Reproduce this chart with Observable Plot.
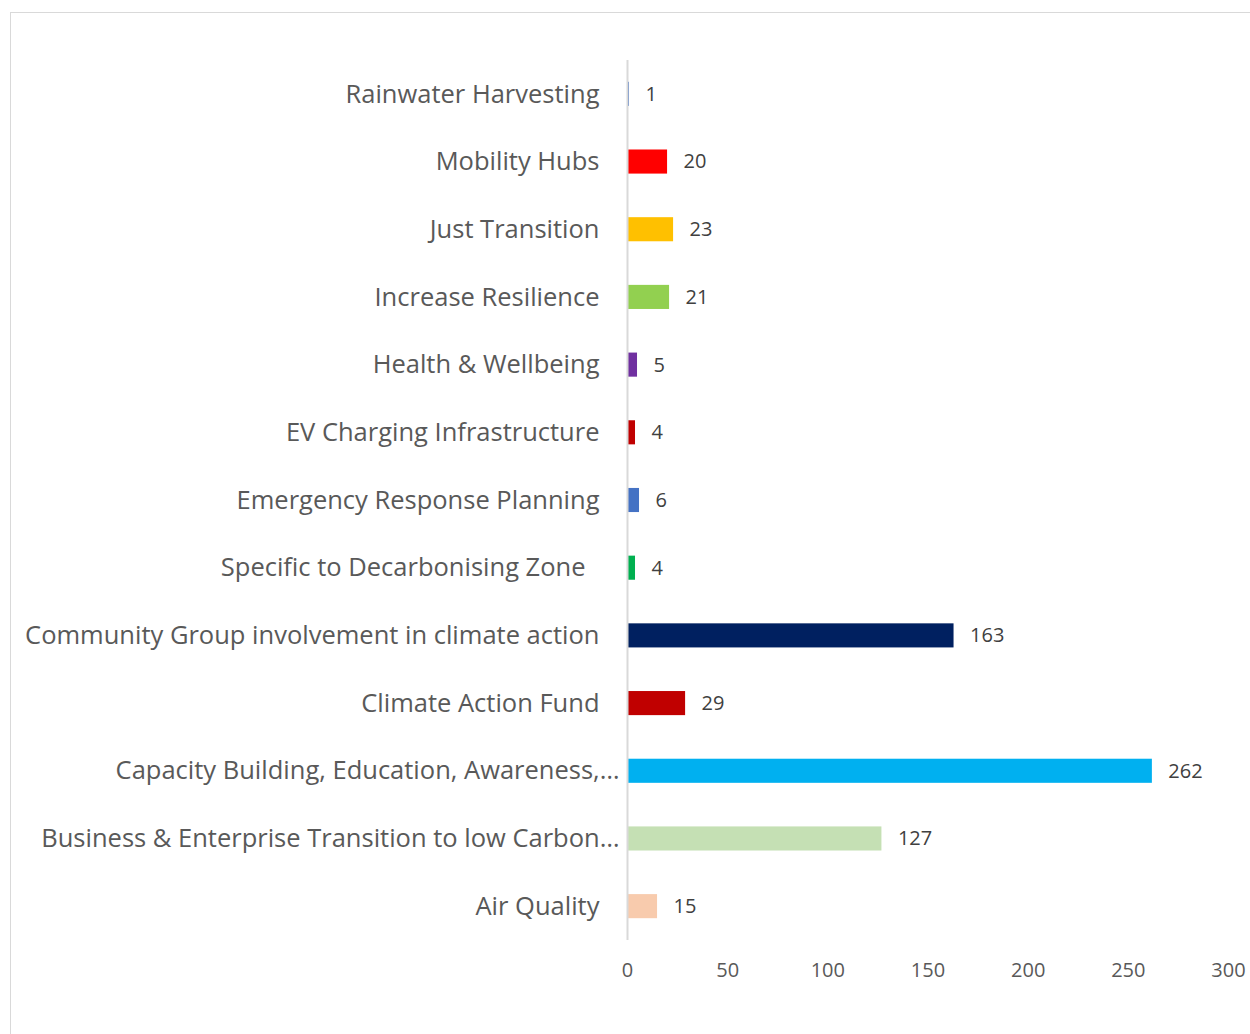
<!DOCTYPE html>
<html>
<head>
<meta charset="utf-8">
<script src="https://cdn.jsdelivr.net/npm/d3@7"></script>
<script src="https://cdn.jsdelivr.net/npm/@observablehq/plot@0.6"></script>
<style>
  html, body { margin: 0; padding: 0; background: #fff; overflow: hidden; }
  #frame { position: absolute; left: 10px; top: 12px; width: 1400px; height: 1200px; border: 1.5px solid #d9d9d9; box-sizing: border-box; }
  #chart { position: absolute; left: 0; top: 0; }
</style>
</head>
<body>
<div id="frame"></div>
<div id="chart"></div>
<script>
const categories = [
  "Rainwater Harvesting",
  "Mobility Hubs",
  "Just Transition",
  "Increase Resilience",
  "Health & Wellbeing",
  "EV Charging Infrastructure",
  "Emergency Response Planning",
  "Specific to Decarbonising Zone",
  "Community Group involvement in climate action",
  "Climate Action Fund",
  "Capacity Building, Education, Awareness,…",
  "Business & Enterprise Transition to low Carbon…",
  "Air Quality"
];
const values = [1, 20, 23, 21, 5, 4, 6, 4, 163, 29, 262, 127, 15];
const colors = ["#4472c4", "#ff0000", "#ffc000", "#92d050", "#7030a0", "#c00000", "#4472c4", "#00b050", "#002060", "#c00000", "#00b0f0", "#c5e0b4", "#f8cbad"];
const xTicks = [0, 50, 100, 150, 200, 250, 300];

const data = categories.map((c, i) => ({category: c, value: values[i], color: colors[i]}));
const truncated = d => d.category.endsWith("…");
const indented = d => d.category === "Specific to Decarbonising Zone";
const normal = d => !truncated(d) && !indented(d);

const font = "'Open Sans', sans-serif";

const chart = Plot.plot({
  width: 1250,
  height: 1034,
  marginLeft: 627,
  marginRight: 22,
  marginTop: 60,
  marginBottom: 94,
  style: { fontFamily: font, background: "transparent" },
  x: { domain: [0, 300], ticks: xTicks, label: null },
  y: { domain: categories, padding: 0, round: false, label: null },
  marks: [
    Plot.barX(data, { y: "category", x: "value", fill: "color", insetTop: 21.8, insetBottom: 21.8 }),
    Plot.ruleX([0], { stroke: "#d9d9d9", strokeWidth: 2 }),
    Plot.text(data, { y: "category", x: "value", text: d => String(d.value), textAnchor: "start", dx: 16, fontSize: 20, fill: "#404040" }),
    Plot.text(data.filter(normal), { y: "category", x: () => 0, text: "category", textAnchor: "end", dx: -28, fontSize: 25.5, fill: "#595959" }),
    Plot.text(data.filter(truncated), { y: "category", x: () => 0, text: "category", textAnchor: "end", dx: -8, fontSize: 25.5, fill: "#595959" }),
    Plot.text(data.filter(indented), { y: "category", x: () => 0, text: "category", textAnchor: "end", dx: -42, fontSize: 25.5, fill: "#595959" }),
    Plot.axisX({ ticks: xTicks, tickSize: 0, tickPadding: 22, fontSize: 20, fill: "#595959", label: null }),
    Plot.axisY({ ticks: [], label: null })
  ]
});
document.getElementById("chart").appendChild(chart);
</script>
</body>
</html>
